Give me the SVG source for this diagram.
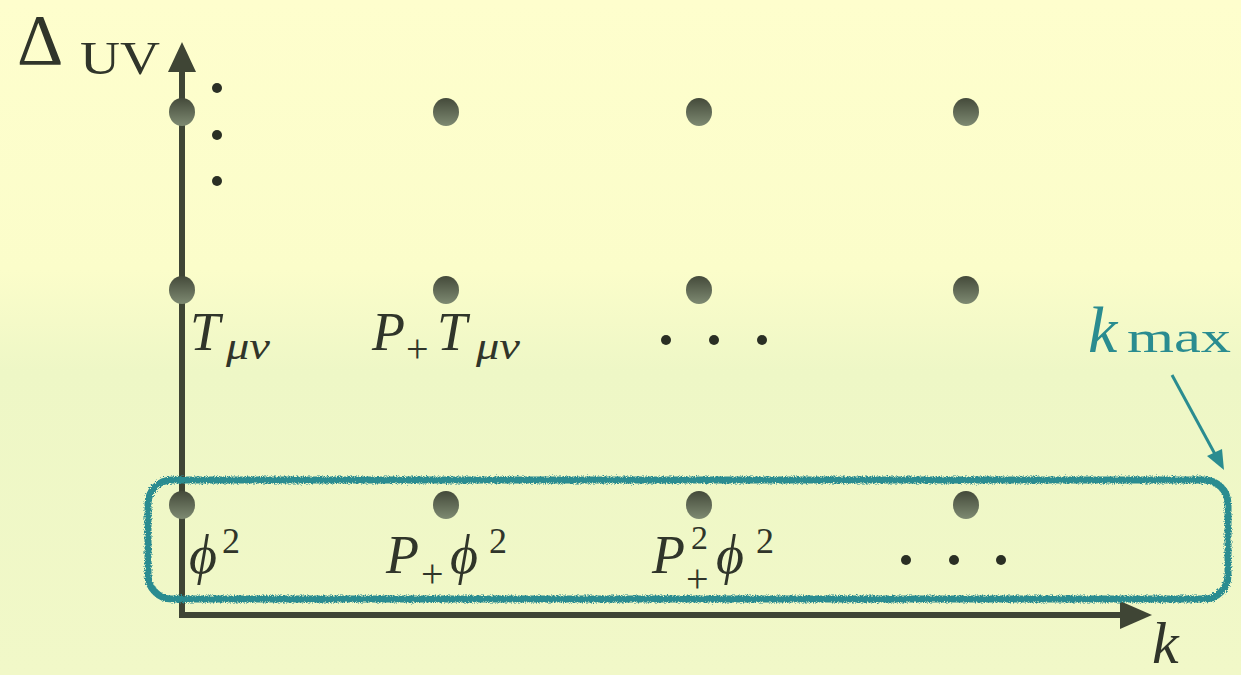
<svg xmlns="http://www.w3.org/2000/svg" width="1241" height="675" viewBox="0 0 1241 675">
<style>
.ax{stroke:#3f4535;stroke-width:6;fill:none}
.ahd{fill:#3f4535}
.it{font-family:"Liberation Serif",serif;font-style:italic;fill:#30352a}
.rm{font-family:"Liberation Serif",serif;fill:#30352a}
.sd{fill:#2a2f24}
.teal{stroke:#2a8c90;fill:none}
</style>
<defs>
<linearGradient id="bg" x1="0" y1="0" x2="0" y2="1">
<stop offset="0" stop-color="#fefecd"/>
<stop offset="0.4" stop-color="#fbfdca"/>
<stop offset="0.55" stop-color="#eef7c6"/>
<stop offset="1" stop-color="#f1f8c8"/>
</linearGradient>
<linearGradient id="dot" x1="0" y1="0" x2="0" y2="1">
<stop offset="0" stop-color="#444a3a"/>
<stop offset="1" stop-color="#7e8a72"/>
</linearGradient>
<filter id="fuzz" x="-5%" y="-20%" width="110%" height="140%">
<feTurbulence type="fractalNoise" baseFrequency="0.9" numOctaves="2" result="n"/>
<feDisplacementMap in="SourceGraphic" in2="n" scale="5"/>
</filter>
</defs>
<rect width="1241" height="675" fill="url(#bg)"/>

<g id="connectors">
<line class="ax" x1="182" y1="66" x2="182" y2="618"/>
<path class="ahd" d="M182,42 L168,72 L196,72 z"/>
<line class="ax" x1="179" y1="615" x2="1126" y2="615"/>
<path class="ahd" d="M1152,615 L1120,601 L1120,629 z"/>
<line x1="1172" y1="375" x2="1216" y2="456" stroke="#2a8c90" stroke-width="3"/>
<path d="M1224,470 L1207,456 L1222,449 z" fill="#2a8c90"/>
</g>

<g id="axis-labels">
<text class="rm" x="17" y="64" font-size="72">Δ</text>
<text class="rm" x="80" y="74" font-size="46" textLength="80" lengthAdjust="spacingAndGlyphs">UV</text>
<text class="it" x="1152" y="663" font-size="60">k</text>
</g>

<g id="dots">
<ellipse cx="182" cy="112" rx="13" ry="14" fill="url(#dot)"/>
<ellipse cx="446" cy="112" rx="13" ry="14" fill="url(#dot)"/>
<ellipse cx="699" cy="112" rx="13" ry="14" fill="url(#dot)"/>
<ellipse cx="966" cy="112" rx="13" ry="14" fill="url(#dot)"/>
<ellipse cx="182" cy="290" rx="13" ry="14" fill="url(#dot)"/>
<ellipse cx="446" cy="290" rx="13" ry="14" fill="url(#dot)"/>
<ellipse cx="699" cy="290" rx="13" ry="14" fill="url(#dot)"/>
<ellipse cx="966" cy="290" rx="13" ry="14" fill="url(#dot)"/>
<ellipse cx="182" cy="505" rx="13" ry="14" fill="url(#dot)"/>
<ellipse cx="446" cy="505" rx="13" ry="14" fill="url(#dot)"/>
<ellipse cx="699" cy="505" rx="13" ry="14" fill="url(#dot)"/>
<ellipse cx="966" cy="505" rx="13" ry="14" fill="url(#dot)"/>
</g>

<g id="ellipsis-dots">
<circle class="sd" cx="217" cy="88" r="5"/>
<circle class="sd" cx="217" cy="135" r="5"/>
<circle class="sd" cx="217" cy="181" r="5"/>
<circle class="sd" cx="666" cy="340" r="5"/>
<circle class="sd" cx="714" cy="340" r="5"/>
<circle class="sd" cx="762" cy="340" r="5"/>
<circle class="sd" cx="906" cy="560" r="5"/>
<circle class="sd" cx="954" cy="560" r="5"/>
<circle class="sd" cx="1001" cy="560" r="5"/>
</g>

<g id="labels">
<text class="it" x="190" y="350" font-size="54">T</text>
<text class="it" x="226" y="359" font-size="38" textLength="44" lengthAdjust="spacingAndGlyphs">μν</text>
<text class="it" x="372" y="350" font-size="54">P</text>
<text class="rm" x="406" y="362" font-size="40">+</text>
<text class="it" x="437" y="350" font-size="54">T</text>
<text class="it" x="476" y="359" font-size="38" textLength="44" lengthAdjust="spacingAndGlyphs">μν</text>

<text class="it" x="189" y="573" font-size="54">ϕ</text>
<text class="rm" x="222" y="553" font-size="36">2</text>
<text class="it" x="386" y="573" font-size="54">P</text>
<text class="rm" x="421" y="587" font-size="40">+</text>
<text class="it" x="450" y="573" font-size="54">ϕ</text>
<text class="rm" x="489" y="553" font-size="36">2</text>
<text class="it" x="652" y="573" font-size="54">P</text>
<text class="rm" x="691" y="549" font-size="34">2</text>
<text class="rm" x="686" y="592" font-size="40">+</text>
<text class="it" x="716" y="573" font-size="54">ϕ</text>
<text class="rm" x="756" y="553" font-size="36">2</text>
</g>

<g id="kmax">
<rect class="teal" x="148" y="480" width="1080" height="119" rx="24" stroke-width="7" filter="url(#fuzz)"/>
<text class="it" x="1088" y="352" font-size="66" style="fill:#2a8c90">k</text>
<text class="rm" x="1127" y="352" font-size="44" style="fill:#2a8c90" textLength="104" lengthAdjust="spacingAndGlyphs">max</text>
</g>
</svg>
